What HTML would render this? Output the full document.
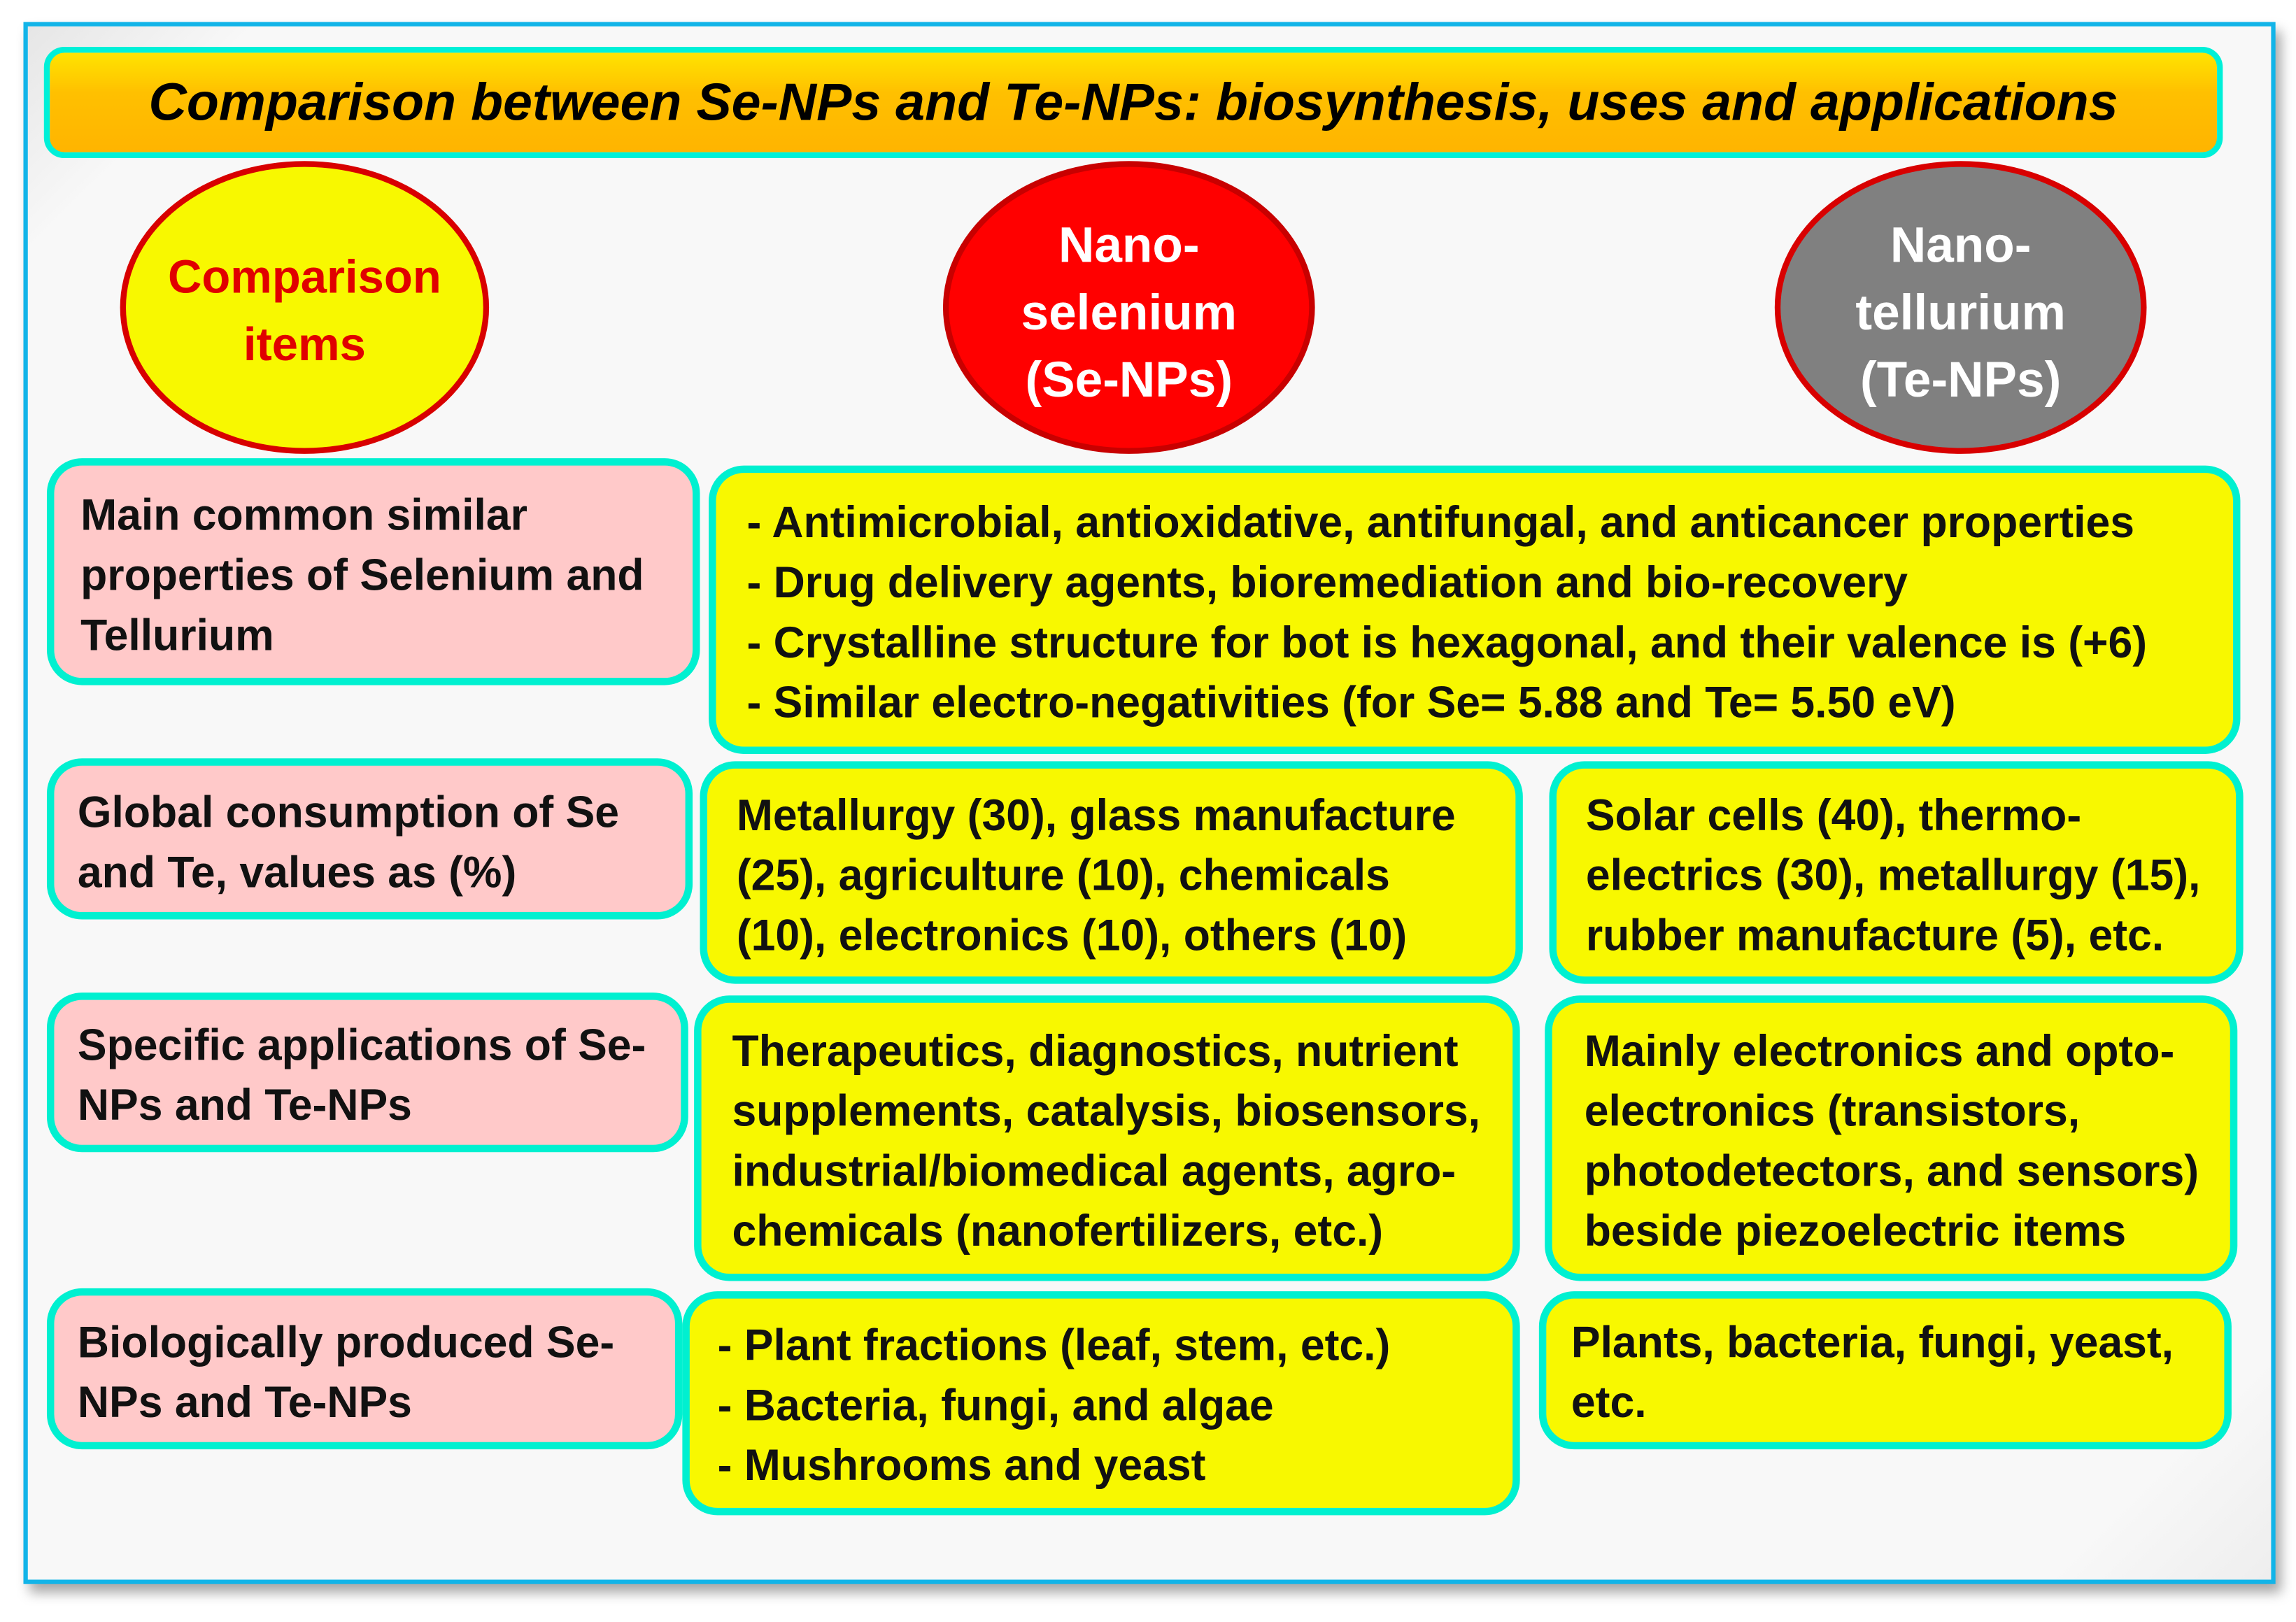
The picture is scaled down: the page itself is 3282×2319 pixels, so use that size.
<!DOCTYPE html>
<html><head><meta charset="utf-8"><style>
html,body{margin:0;padding:0;background:#fff;width:3282px;height:2318px;overflow:hidden}
#s{position:absolute;left:0;top:0;width:1568px;height:1108px;transform:scale(2.0931);transform-origin:0 0;font-family:"Liberation Sans",sans-serif}
.a{position:absolute;box-sizing:border-box}
.frame{left:16px;top:15px;width:1538px;height:1067px;border:3px solid #12b4e8;background:linear-gradient(135deg,#e6e6e6 0%,#f8f8f8 6%,#f8f8f8 94%,#eee 100%);box-shadow:4px 6px 8px rgba(0,0,0,.35)}
.box{border:5px solid #00f0d0;border-radius:24px}
.pink{background:#ffc9c9}
.yel{background:#f8f800}
.t{position:absolute;font-weight:bold;font-size:30px;line-height:41px;color:#111;white-space:nowrap;transform:scaleX(.995);transform-origin:0 0}
.ell{position:absolute;border-radius:50%;box-sizing:border-box;border:4px solid #d80000}
.et{position:absolute;width:100%;text-align:center;font-weight:bold;font-size:34px;line-height:46px;white-space:nowrap}
</style></head><body><div id="s">
<div class="a frame"></div>
<div class="a" style="left:30px;top:32px;width:1488px;height:76px;border:4px solid #00f0d8;border-radius:14px;background:linear-gradient(#ffe400,#ffc000 40%,#ffb400)"></div>
<div class="a" style="left:30px;top:48px;width:1488px;text-align:center;font-weight:bold;font-style:italic;font-size:36px;line-height:44px;white-space:nowrap">Comparison between Se-NPs and Te-NPs: biosynthesis, uses and applications</div>

<div class="ell" style="left:82px;top:110px;width:252px;height:200px;background:#f8f800"><div class="et" style="top:52px;color:#e00000;font-size:32px">Comparison<br>items</div></div>
<div class="ell" style="left:644px;top:110px;width:254px;height:200px;background:#ff0000;border-color:#c80000"><div class="et" style="top:31px;color:#fff">Nano-<br>selenium<br>(Se-NPs)</div></div>
<div class="ell" style="left:1212px;top:110px;width:254px;height:200px;background:#808080;border-color:#d80000"><div class="et" style="top:31px;color:#fff">Nano-<br>tellurium<br>(Te-NPs)</div></div>

<div class="a box pink" style="left:32px;top:313px;width:446px;height:155px"></div>
<div class="a box yel" style="left:484px;top:318px;width:1046px;height:197px"></div>
<div class="a box pink" style="left:32px;top:518px;width:441px;height:110px"></div>
<div class="a box yel" style="left:478px;top:520px;width:562px;height:152px"></div>
<div class="a box yel" style="left:1058px;top:520px;width:474px;height:152px"></div>
<div class="a box pink" style="left:32px;top:678px;width:438px;height:109px"></div>
<div class="a box yel" style="left:474px;top:680px;width:564px;height:195px"></div>
<div class="a box yel" style="left:1055px;top:680px;width:473px;height:195px"></div>
<div class="a box pink" style="left:32px;top:880px;width:434px;height:110px"></div>
<div class="a box yel" style="left:466px;top:882px;width:572px;height:153px"></div>
<div class="a box yel" style="left:1051px;top:882px;width:473px;height:108px"></div>

<div class="t" style="left:55px;top:332px">Main common similar<br>properties of Selenium and<br>Tellurium</div>
<div class="t" style="left:510px;top:337px">- Antimicrobial, antioxidative, antifungal, and anticancer properties<br>- Drug delivery agents, bioremediation and bio-recovery<br>- Crystalline structure for bot is hexagonal, and their valence is (+6)<br>- Similar electro-negativities (for Se= 5.88 and Te= 5.50 eV)</div>
<div class="t" style="left:53px;top:535px">Global consumption of Se<br>and Te, values as (%)</div>
<div class="t" style="left:503px;top:537px">Metallurgy (30), glass manufacture<br>(25), agriculture (10), chemicals<br>(10), electronics (10), others (10)</div>
<div class="t" style="left:1083px;top:537px">Solar cells (40), thermo-<br>electrics (30), metallurgy (15),<br>rubber manufacture (5), etc.</div>
<div class="t" style="left:53px;top:694px">Specific applications of Se-<br>NPs and Te-NPs</div>
<div class="t" style="left:500px;top:698px">Therapeutics, diagnostics, nutrient<br>supplements, catalysis, biosensors,<br>industrial/biomedical agents, agro-<br>chemicals (nanofertilizers, etc.)</div>
<div class="t" style="left:1082px;top:698px">Mainly electronics and opto-<br>electronics (transistors,<br>photodetectors, and sensors)<br>beside piezoelectric items</div>
<div class="t" style="left:53px;top:897px">Biologically produced Se-<br>NPs and Te-NPs</div>
<div class="t" style="left:490px;top:899px">- Plant fractions (leaf, stem, etc.)<br>- Bacteria, fungi, and algae<br>- Mushrooms and yeast</div>
<div class="t" style="left:1073px;top:897px">Plants, bacteria, fungi, yeast,<br>etc.</div>
</div></body></html>
